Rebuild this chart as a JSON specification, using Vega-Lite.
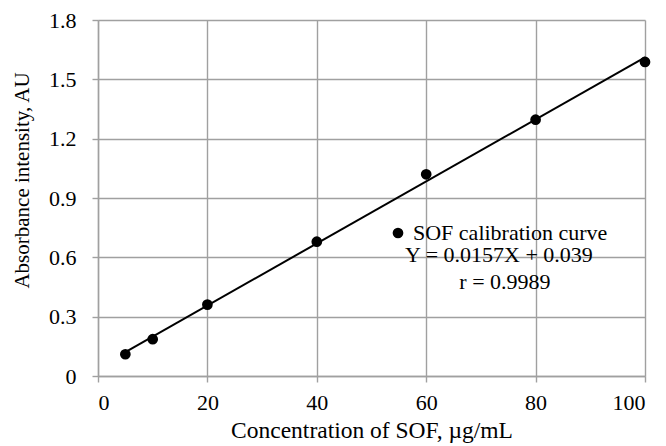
{
  "$schema": "https://vega.github.io/schema/vega-lite/v6.json",
  "width": 547,
  "height": 356,
  "autosize": "none",
  "padding": {"left": 98, "top": 20, "right": 21, "bottom": 70},
  "background": "white",
  "config": {
    "font": "Liberation Serif",
    "view": {"stroke": null},
    "style": {
      "guide-label": {"font": "Times New Roman, Liberation Serif, serif", "fontSize": 22, "fill": "black"},
      "guide-title": {"font": "Liberation Serif", "fontSize": 21, "fill": "black", "fontWeight": "normal"}
    },
    "text": {"font": "Liberation Serif"},
    "legend": {"labelFont": "Times New Roman, Liberation Serif, serif", "titleFont": "Liberation Serif"},
    "axis": {
      "gridColor": "#a0a0a0",
      "gridWidth": 1.4,
      "domainColor": "#a0a0a0",
      "domainWidth": 1.4,
      "tickColor": "#a0a0a0",
      "tickWidth": 1.4,
      "tickSize": 6,
      "labelFont": "Times New Roman, Liberation Serif, serif",
      "labelFontSize": 22,
      "labelColor": "black",
      "labelPadding": 16,
      "titleFont": "Liberation Serif",
      "titleFontSize": 21,
      "titleFontWeight": "normal",
      "titleColor": "black"
    }
  },
  "layer": [
    {
      "data": {"name": "pts"},
      "transform": [{"regression": "abs", "on": "conc"}],
      "mark": {"type": "line", "color": "black", "strokeWidth": 2},
      "encoding": {
        "x": {"field": "conc", "type": "quantitative"},
        "y": {"field": "abs", "type": "quantitative"}
      }
    },
    {
      "data": {"name": "pts"},
      "mark": {"type": "point", "filled": true, "opacity": 1, "size": 115, "shape": "circle"},
      "encoding": {
        "x": {
          "field": "conc",
          "type": "quantitative",
          "scale": {"domain": [0, 100], "nice": false},
          "axis": {"values": [0, 20, 40, 60, 80, 100], "labelPadding": 10, "title": "Concentration of SOF, µg/mL", "titleFontSize": 23.5, "titlePadding": 5}
        },
        "y": {
          "field": "abs",
          "type": "quantitative",
          "scale": {"domain": [0, 1.8], "nice": false},
          "axis": {"values": [0, 0.3, 0.6, 0.9, 1.2, 1.5, 1.8], "format": ".1~f", "title": "Absorbance intensity, AU", "titlePadding": 16, "titleY": 160}
        },
        "color": {
          "datum": "SOF calibration curve",
          "type": "nominal",
          "scale": {"range": ["black"]},
          "legend": {
            "title": null,
            "orient": "none",
            "legendX": 289,
            "legendY": 202,
            "labelFont": "Times New Roman, Liberation Serif, serif",
            "labelFontSize": 22,
            "labelColor": "black",
            "labelOffset": 4,
            "labelLimit": 400,
            "symbolSize": 115,
            "symbolType": "circle",
            "symbolStrokeWidth": 0,
            "symbolFillColor": "black"
          }
        }
      }
    },
    {
      "data": {"name": "notes"},
      "mark": {"type": "text", "font": "Liberation Serif", "fontSize": 22, "fill": "black", "align": "center", "baseline": "middle"},
      "encoding": {
        "x": {"datum": 73.3, "type": "quantitative"},
        "y": {"datum": 0.61, "type": "quantitative"},
        "text": {"field": "eq"}
      }
    },
    {
      "data": {"name": "notes"},
      "mark": {"type": "text", "font": "Liberation Serif", "fontSize": 22, "fill": "black", "align": "center", "baseline": "middle"},
      "encoding": {
        "x": {"datum": 74.4, "type": "quantitative"},
        "y": {"datum": 0.475, "type": "quantitative"},
        "text": {"field": "r"}
      }
    }
  ],
  "datasets": {
    "pts": [
      {"conc": 5, "abs": 0.110},
      {"conc": 10, "abs": 0.186},
      {"conc": 20, "abs": 0.361},
      {"conc": 40, "abs": 0.679},
      {"conc": 60, "abs": 1.020},
      {"conc": 80, "abs": 1.296},
      {"conc": 100, "abs": 1.588}
    ],
    "notes": [
      {"eq": "Y = 0.0157X + 0.039", "r": "r = 0.9989"}
    ]
  }
}
